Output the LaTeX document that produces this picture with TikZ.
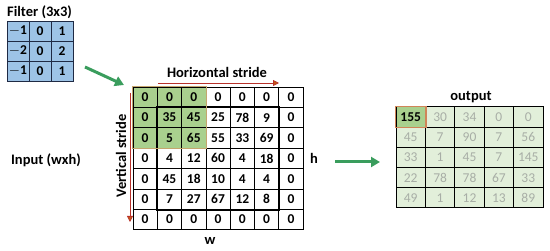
\documentclass[tikz,border=0pt]{standalone}
\usepackage{fontspec}
\setmainfont{Carlito}
\usetikzlibrary{arrows.meta}
\definecolor{filterblue}{HTML}{9DC3E6}
\definecolor{filterline}{HTML}{1F2A44}
\definecolor{hlgreen}{HTML}{A9D08E}
\definecolor{hlborder}{HTML}{C4A66E}
\definecolor{outbg}{HTML}{E2EFDA}
\definecolor{outtext}{HTML}{A8AEA6}
\definecolor{arrowgreen}{HTML}{3A9D5D}
\definecolor{stridered}{HTML}{B8322A}
\definecolor{tiporange}{HTML}{C55A11}
\tikzset{
  fcell/.style={draw=filterline, line width=0.9pt, fill=filterblue, minimum width=22pt, minimum height=20pt, inner sep=0pt, font=\fontsize{13.5}{13.5}\selectfont\bfseries},
  incell/.style={draw=black, line width=0.8pt, minimum width=24.3pt, minimum height=20.4pt, inner sep=0pt, font=\fontsize{13.5}{13.5}\selectfont\bfseries},
  outcell/.style={draw=black, line width=1pt, minimum width=29.4pt, minimum height=20.2pt, inner sep=0pt, text=outtext, font=\fontsize{13.5}{13.5}\selectfont},
  lbl/.style={inner sep=0pt, font=\fontsize{14.5}{14.5}\selectfont\bfseries},
  bigarrow/.style={draw=arrowgreen, line width=3pt, -{Triangle[length=9pt,width=10pt]}},
  stridearrow/.style={draw=stridered, line width=0.8pt, -{Triangle[length=6pt,width=6pt,fill=tiporange]}}
}
\begin{document}
\begin{tikzpicture}[x=1pt,y=-1pt]
\useasboundingbox (0,0) rectangle (550,251);
% Filter
\node[lbl, anchor=west] (ftitle) at (7,12) {Filter (3x3)};
\foreach \v [count=\i from 0] in {$-$1,0,1,$-$2,0,2,$-$1,0,1} {
  \pgfmathtruncatemacro\c{mod(\i,3)}
  \pgfmathtruncatemacro\r{int(\i/3)}
  \node[fcell] (f-\r-\c) at ({7+22*(\c+0.5)},{21+20*(\r+0.5)}) {\v};
}
% Input
\fill[hlgreen] (133,87) rectangle ({133+3*24.3},{87+3*20.4});
\foreach \v [count=\i from 0] in {0,0,0,0,0,0,0, 0,35,45,25,78,9,0, 0,5,65,55,33,69,0, 0,4,12,60,4,18,0, 0,45,18,10,4,4,0, 0,7,27,67,12,8,0, 0,0,0,0,0,0,0} {
  \pgfmathtruncatemacro\c{mod(\i,7)}
  \pgfmathtruncatemacro\r{int(\i/7)}
  \node[incell] (in-\r-\c) at ({133+24.3*(\c+0.5)},{87+20.4*(\r+0.5)}) {\v};
}
\draw[line width=1.8pt] (in-1-1.north west) rectangle (in-5-5.south east);
\draw[hlborder, line width=1.6pt] (in-0-0.north west) rectangle (in-2-2.south east);
% Stride labels and arrows
\node[lbl] (hstride) at (217,72) {Horizontal stride};
\coordinate (hs0) at (158,83);
\coordinate (hs1) at (279,83);
\draw[stridearrow] (hs0) -- (hs1);
\node[lbl, rotate=90] (vstride) at (121,156) {Vertical stride};
\coordinate (vs0) at (130,93);
\coordinate (vs1) at (130,222);
\draw[stridearrow] (vs0) -- (vs1);
\node[lbl] (input) at (46,160) {Input (wxh)};
\node[lbl] (hlab) at (314,158) {h};
\node[lbl] (wlab) at (210,241) {w};
% Output
\node[lbl] (otitle) at (471,97) {output};
\fill[outbg] (396,107) rectangle ({396+5*29.4},{107+5*20.2});
\foreach \v [count=\i from 0] in {155,30,34,0,0, 45,7,90,7,56, 33,1,45,7,145, 22,78,78,67,33, 49,1,12,13,89} {
  \pgfmathtruncatemacro\c{mod(\i,5)}
  \pgfmathtruncatemacro\r{int(\i/5)}
  \ifnum\i=0
    \node[outcell, fill=hlgreen, text=black, font=\fontsize{13.5}{13.5}\selectfont\bfseries] (out-\r-\c) at ({396+29.4*(\c+0.5)},{107+20.2*(\r+0.5)}) {\v};
  \else
    \node[outcell] (out-\r-\c) at ({396+29.4*(\c+0.5)},{107+20.2*(\r+0.5)}) {\v};
  \fi
}
\draw[hlborder!80!red, line width=1.2pt] (out-0-0.north west) rectangle (out-0-0.south east);
% Green arrows
\coordinate (ga0) at (85,67);
\coordinate (ga1) at (124,85);
\draw[bigarrow] (ga0) -- (ga1);
\coordinate (gb0) at (335,162);
\coordinate (gb1) at (380,162);
\draw[bigarrow] (gb0) -- (gb1);
\end{tikzpicture}
\end{document}
